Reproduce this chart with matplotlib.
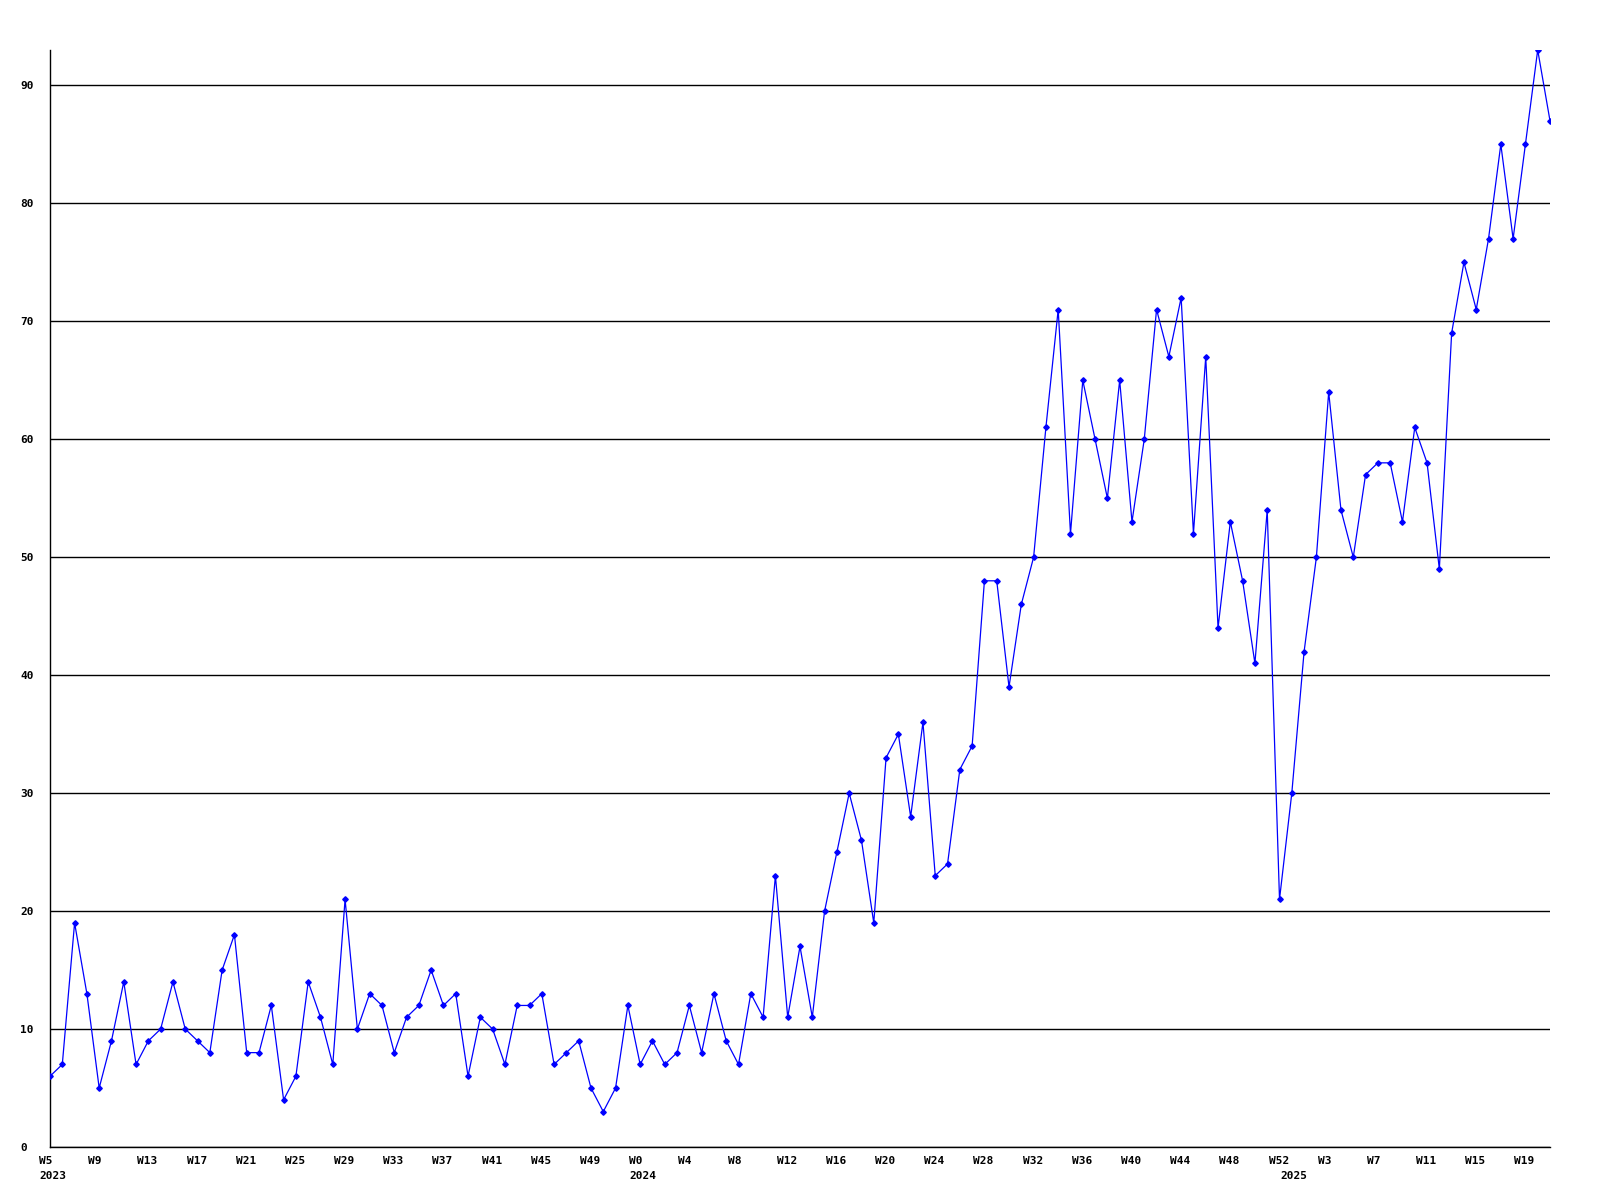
import matplotlib
matplotlib.use("Agg")
import matplotlib.pyplot as plt
from matplotlib.transforms import ScaledTranslation

# Weekly counts, 2023 W5 .. 2025 W21
values = [6, 7, 19, 13, 5, 9, 14, 7, 9, 10, 14, 10, 9, 8, 15, 18, 8, 8, 12, 4,
          6, 14, 11, 7, 21, 10, 13, 12, 8, 11, 12, 15, 12, 13, 6, 11, 10, 7, 12, 12,
          13, 7, 8, 9, 5, 3, 5, 12, 7, 9, 7, 8, 12, 8, 13, 9, 7, 13, 11, 23,
          11, 17, 11, 20, 25, 30, 26, 19, 33, 35, 28, 36, 23, 24, 32, 34, 48, 48, 39, 46,
          50, 61, 71, 52, 65, 60, 55, 65, 53, 60, 71, 67, 72, 52, 67, 44, 53, 48, 41, 54,
          21, 30, 42, 50, 64, 54, 50, 57, 58, 58, 53, 61, 58, 49, 69, 75, 71, 77, 85, 77,
          85, 93, 87]

years = [2023] * 48 + [2024] * 53 + [2025] * 22
weeks = list(range(5, 53)) + list(range(0, 53)) + list(range(0, 22))

y_ticks = [0, 10, 20, 30, 40, 50, 60, 70, 80, 90]

W, H = 1600, 1200
fig = plt.figure(figsize=(16, 12), dpi=100)
ax = fig.add_axes([50 / W, 1 - 1147 / H, 1500 / W, (1147 - 50) / H])

x = list(range(len(values)))
ax.plot(x, values, color="#0000ff", lw=0.9, marker="D", ms=2.8,
        markerfacecolor="#0000ff", markeredgecolor="#0000ff", zorder=3)

ax.set_xlim(0, len(values) - 1)
ax.set_ylim(0, max(values))

# major x ticks: every 4th week; minor x ticks: first point of each year
week_ticks = [i for i in range(len(values)) if i % 4 == 0]
week_labels = [f"W{weeks[i]}" for i in week_ticks]
year_ticks = [i for i in range(len(values)) if i == 0 or years[i] != years[i - 1]]
year_labels = [str(years[i]) for i in year_ticks]

mono = {"family": "DejaVu Sans Mono", "weight": "bold", "size": 8}
ax.xaxis.remove_overlapping_locs = False
ax.set_xticks(week_ticks)
ax.set_xticklabels(week_labels, fontdict=mono, ha="left")
ax.set_xticks(year_ticks, minor=True)
ax.set_xticklabels(year_labels, minor=True, fontdict=mono, ha="left")
ax.set_yticks(y_ticks)
ax.set_yticklabels([str(v) for v in y_ticks], fontdict=mono, ha="left")

ax.tick_params(axis="both", which="both", length=0)
ax.tick_params(axis="x", which="major", pad=6.5)
ax.tick_params(axis="x", which="minor", pad=17.5)
ax.tick_params(axis="y", pad=0)

off_x = ScaledTranslation(-11 / 100, 0, fig.dpi_scale_trans)
for lab in ax.get_xticklabels() + ax.get_xticklabels(minor=True):
    lab.set_transform(lab.get_transform() + off_x)
off_y = ScaledTranslation(-30 / 100, 0, fig.dpi_scale_trans)
for lab in ax.get_yticklabels():
    lab.set_transform(lab.get_transform() + off_y)

ax.yaxis.grid(True, color="black", lw=1.0)
ax.set_axisbelow(True)
for s in ["top", "right"]:
    ax.spines[s].set_visible(False)
ax.spines["left"].set_color("black")
ax.spines["left"].set_linewidth(1.0)
ax.spines["bottom"].set_color("black")
ax.spines["bottom"].set_linewidth(1.0)

fig.savefig("out.png", dpi=100, facecolor="white")
